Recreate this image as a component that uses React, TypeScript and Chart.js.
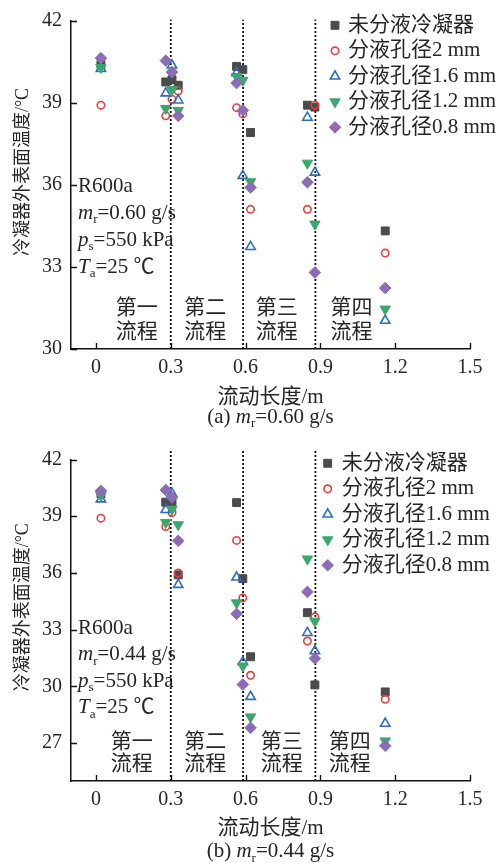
import React, { useEffect, useRef } from 'react';
import { Chart, registerables } from 'chart.js';

Chart.register(...registerables);

// ---------------- data ----------------
const flowLength = [0.02, 0.28, 0.305, 0.33, 0.564, 0.589, 0.62, 0.848, 0.878, 1.16];
const seriesNames = ['未分液冷凝器', '分液孔径2 mm', '分液孔径1.6 mm', '分液孔径1.2 mm', '分液孔径0.8 mm'];

// (a) m_r = 0.60 g/s
const a_noSplit = [40.4, 39.77, 39.85, 39.65, 40.34, 40.22, 37.92, 38.92, 38.85, 34.32];
const a_hole20 = [38.92, 38.53, 39.14, 39.44, 38.83, 38.6, 35.11, 35.11, 38.92, 33.51];
const a_hole16 = [40.25, 39.36, 40.38, 39.1, 40.1, 36.34, 33.74, 38.47, 36.46, 31.04];
const a_hole12 = [40.3, 38.8, 39.49, 38.73, 39.97, 39.83, 36.12, 36.8, 34.57, 31.46];
const a_hole08 = [40.64, 40.55, 40.13, 38.53, 39.73, 38.73, 35.91, 36.1, 32.8, 32.23];

// (b) m_r = 0.44 g/s
const b_noSplit = [40.2, 39.74, 39.75, 35.9, 39.72, 35.7, 31.57, 33.9, 30.08, 29.71];
const b_hole20 = [38.9, 38.46, 39.2, 36.0, 37.72, 34.68, 30.59, 32.4, 33.68, 29.32];
const b_hole16 = [39.9, 39.34, 40.2, 35.38, 35.77, 31.29, 29.46, 32.84, 31.87, 28.04];
const b_hole12 = [40.1, 38.67, 39.37, 38.55, 34.42, 31.08, 28.39, 36.74, 33.45, 27.12];
const b_hole08 = [40.34, 40.39, 39.99, 37.7, 33.84, 30.1, 27.81, 35.0, 31.48, 26.86];

const passBoundaries = [0.3, 0.59, 0.88];
const passNames = ['第一', '第二', '第三', '第四'];
const passSuffix = '流程';
const xTicks = [0, 0.3, 0.6, 0.9, 1.2, 1.5];
const xTickLabels = ['0', '0.3', '0.6', '0.9', '1.2', '1.5'];
const yTicksA = [30, 33, 36, 39, 42];
const yTicksB = [27, 30, 33, 36, 39, 42];
const xTitle = '流动长度/m';
const yTitle = '冷凝器外表面温度/°C';
const refrigerant = 'R600a';
const flowA = '=0.60 g/s';
const flowB = '=0.44 g/s';
const pressure = '=550 kPa';
const ambient = '=25 ℃';

// ---------------- styles ----------------
const SERIF = '"Liberation Serif", "Noto Sans CJK SC", serif';
const TEXT = '#262626';
const markerStyles = [
  { pointStyle: 'rect', radius: 5.6, fill: '#4b4b4b', stroke: '#4b4b4b', width: 1, rotation: 0 },
  { pointStyle: 'circle', radius: 3.7, fill: 'rgba(255,255,255,0)', stroke: '#ee3b3b', width: 1.6, rotation: 0 },
  { pointStyle: 'triangle', radius: 5.4, fill: 'rgba(255,255,255,0)', stroke: '#2a6cc6', width: 1.6, rotation: 0 },
  { pointStyle: 'triangle', radius: 6, fill: '#3aa86c', stroke: '#3aa86c', width: 1, rotation: 180 },
  { pointStyle: 'rectRot', radius: 5.8, fill: '#8d6cb7', stroke: '#8d6cb7', width: 1, rotation: 0 },
];

type Part = { t: string; it?: boolean; sub?: boolean };

function partFont(p: Part, size: number) {
  return `${p.it ? 'italic ' : ''}${p.sub ? Math.round(size * 0.62) : size}px ${SERIF}`;
}
function measureParts(ctx: CanvasRenderingContext2D, parts: Part[], size: number) {
  let w = 0;
  for (const p of parts) {
    ctx.font = partFont(p, size);
    w += ctx.measureText(p.t).width;
  }
  return w;
}
function drawParts(ctx: CanvasRenderingContext2D, parts: Part[], x: number, y: number, size: number) {
  let cx = x;
  ctx.textAlign = 'left';
  ctx.textBaseline = 'middle';
  for (const p of parts) {
    ctx.font = partFont(p, size);
    ctx.fillText(p.t, cx, p.sub ? y + size * 0.32 : y);
    cx += ctx.measureText(p.t).width;
  }
}

function drawMarker(ctx: CanvasRenderingContext2D, st: any, x: number, y: number) {
  const r = st.radius;
  let rad = (st.rotation * Math.PI) / 180;
  ctx.beginPath();
  if (st.pointStyle === 'rect') {
    const s = Math.SQRT1_2 * r;
    ctx.rect(x - s, y - s, 2 * s, 2 * s);
  } else if (st.pointStyle === 'circle') {
    ctx.arc(x, y, r, 0, Math.PI * 2);
  } else if (st.pointStyle === 'triangle') {
    for (let i = 0; i < 3; i++) {
      const px = x + Math.sin(rad) * r;
      const py = y - Math.cos(rad) * r;
      if (i === 0) ctx.moveTo(px, py);
      else ctx.lineTo(px, py);
      rad += (2 * Math.PI) / 3;
    }
  } else {
    ctx.moveTo(x - r, y);
    ctx.lineTo(x, y - r);
    ctx.lineTo(x + r, y);
    ctx.lineTo(x, y + r);
  }
  ctx.closePath();
  ctx.fillStyle = st.fill;
  ctx.fill();
  ctx.lineWidth = st.width;
  ctx.strokeStyle = st.stroke;
  ctx.stroke();
}

const panels = [
  {
    key: 'a',
    top: 0,
    height: 430,
    padTop: 20.5,
    xAxisHeight: 81,
    titlePadBottom: 20,
    yMin: 30,
    yTicks: yTicksA,
    lineTop: 42.05,
    series: [a_noSplit, a_hole20, a_hole16, a_hole12, a_hole08],
    legendMarkerX: 335,
    legendTextX: 348,
    legendY0: 25.3,
    condY0: 186,
    condStep: 27,
    flow: flowA,
    passLabelX: [0.164, 0.438, 0.725, 1.025],
    passRows: [-41, -17],
    captionY: 417,
    captionTag: '(a) ',
  },
  {
    key: 'b',
    top: 430,
    height: 433,
    padTop: 29.5,
    xAxisHeight: 82,
    titlePadBottom: 22,
    yMin: 25,
    yTicks: yTicksB,
    lineTop: 42.5,
    series: [b_noSplit, b_hole20, b_hole16, b_hole12, b_hole08],
    legendMarkerX: 327.7,
    legendTextX: 341.7,
    legendY0: 33.3,
    condY0: 198,
    condStep: 26.5,
    flow: flowB,
    passLabelX: [0.144, 0.438, 0.745, 1.018],
    passRows: [-38.5, -17],
    captionY: 421.5,
    captionTag: '(b) ',
  },
];

function buildConfig(cfg: any): any {
  const markerSets = cfg.series.map((vals: number[], i: number) => {
    const st = markerStyles[i];
    return {
      type: 'scatter',
      label: seriesNames[i],
      data: vals.map((v, j) => ({ x: flowLength[j], y: v })),
      pointStyle: st.pointStyle,
      pointRadius: st.radius,
      pointBorderWidth: st.width,
      pointBackgroundColor: st.fill,
      pointBorderColor: st.stroke,
      pointRotation: st.rotation,
      showLine: false,
      order: 5 - i,
      clip: false,
    };
  });
  const lineSets = passBoundaries.map((b) => ({
    type: 'line',
    label: '',
    data: [
      { x: b, y: cfg.yMin },
      { x: b, y: cfg.lineTop },
    ],
    borderColor: '#111111',
    borderWidth: 1.8,
    borderDash: [2, 2],
    pointRadius: 0,
    showLine: true,
    order: 20,
    clip: false,
  }));

  const overlay = {
    id: 'overlay' + cfg.key,
    afterDraw(chart: any) {
      const ctx: CanvasRenderingContext2D = chart.ctx;
      const xs = chart.scales.x;
      const ys = chart.scales.y;
      const ca = chart.chartArea;
      ctx.save();
      // inward tick marks
      ctx.strokeStyle = '#111111';
      ctx.lineWidth = 1.4;
      ctx.beginPath();
      for (const v of xTicks) {
        const px = Math.round(xs.getPixelForValue(v)) + 0.5;
        ctx.moveTo(px, ca.bottom);
        ctx.lineTo(px, ca.bottom - 6);
      }
      for (const v of cfg.yTicks) {
        const py = Math.round(ys.getPixelForValue(v)) + 0.5;
        ctx.moveTo(ca.left, py);
        ctx.lineTo(ca.left + 6, py);
      }
      ctx.stroke();

      ctx.fillStyle = TEXT;
      // y title
      ctx.save();
      ctx.translate(23, (ca.top + ca.bottom) / 2 - 13);
      ctx.rotate(-Math.PI / 2);
      ctx.font = `18px ${SERIF}`;
      ctx.textAlign = 'center';
      ctx.textBaseline = 'middle';
      ctx.fillText(yTitle, 0, 0);
      ctx.restore();

      // condition block
      const cx = ca.left + 7;
      const lines: Part[][] = [
        [{ t: refrigerant }],
        [{ t: 'm', it: true }, { t: 'r', sub: true }, { t: cfg.flow }],
        [{ t: 'p', it: true }, { t: 's', sub: true }, { t: pressure }],
        [{ t: 'T', it: true }, { t: 'a', sub: true }, { t: ambient }],
      ];
      lines.forEach((parts, i) => drawParts(ctx, parts, cx, cfg.condY0 + i * cfg.condStep, 21));

      // pass labels
      ctx.font = `21px ${SERIF}`;
      ctx.textAlign = 'center';
      ctx.textBaseline = 'middle';
      passNames.forEach((name, i) => {
        const px = xs.getPixelForValue(cfg.passLabelX[i]);
        ctx.fillText(name, px, ca.bottom + cfg.passRows[0]);
        ctx.fillText(passSuffix, px, ca.bottom + cfg.passRows[1]);
      });

      // legend
      seriesNames.forEach((name, i) => {
        const y = cfg.legendY0 + i * 25.5;
        drawMarker(ctx, markerStyles[i], cfg.legendMarkerX, y);
        ctx.fillStyle = TEXT;
        ctx.font = `21px ${SERIF}`;
        ctx.textAlign = 'left';
        ctx.textBaseline = 'middle';
        ctx.fillText(name, cfg.legendTextX, y);
      });

      // caption
      const cap: Part[] = [{ t: cfg.captionTag }, { t: 'm', it: true }, { t: 'r', sub: true }, { t: cfg.flow }];
      const w = measureParts(ctx, cap, 21);
      ctx.fillStyle = TEXT;
      drawParts(ctx, cap, (ca.left + ca.right) / 2 - w / 2, cfg.captionY, 21);
      ctx.restore();
    },
  };

  return {
    type: 'scatter',
    data: { datasets: [...markerSets, ...lineSets] },
    options: {
      animation: false,
      responsive: false,
      devicePixelRatio: 1,
      layout: { padding: { top: cfg.padTop, right: 29, left: 0, bottom: 0 } },
      plugins: { legend: { display: false }, tooltip: { enabled: false } },
      scales: {
        x: {
          type: 'linear',
          min: -0.1,
          max: 1.5,
          afterBuildTicks: (s: any) => {
            s.ticks = xTicks.map((v) => ({ value: v }));
          },
          afterFit: (s: any) => {
            s.height = cfg.xAxisHeight;
          },
          grid: { display: false, drawTicks: false },
          border: { display: true, color: '#111111', width: 1.5 },
          ticks: {
            color: TEXT,
            padding: 7,
            font: { family: SERIF, size: 20 },
            callback: (_v: any, i: number) => xTickLabels[i],
          },
          title: {
            display: true,
            text: xTitle,
            color: TEXT,
            font: { family: SERIF, size: 21 },
            padding: { top: 0, bottom: cfg.titlePadBottom },
          },
        },
        y: {
          type: 'linear',
          min: cfg.yMin,
          max: 42,
          afterBuildTicks: (s: any) => {
            s.ticks = cfg.yTicks.map((v: number) => ({ value: v }));
          },
          afterFit: (s: any) => {
            s.width = 71;
          },
          grid: { display: false, drawTicks: false },
          border: { display: true, color: '#111111', width: 1.5 },
          ticks: {
            color: TEXT,
            padding: 9,
            font: { family: SERIF, size: 20 },
            callback: (v: any) => String(v),
          },
        },
      },
    },
    plugins: [overlay],
  };
}

function ChartPanel({ cfg }: { cfg: any }) {
  const ref = useRef<HTMLCanvasElement>(null);
  useEffect(() => {
    const chart = new Chart(ref.current as HTMLCanvasElement, buildConfig(cfg));
    return () => chart.destroy();
  }, [cfg]);
  return (
    <canvas
      ref={ref}
      width={499}
      height={cfg.height}
      style={{ position: 'absolute', left: 0, top: cfg.top, width: 499, height: cfg.height, display: 'block' }}
    />
  );
}

export default function App() {
  return (
    <div style={{ position: 'absolute', left: 0, top: 0, width: 499, height: 863, background: '#ffffff' }}>
      {panels.map((p) => (
        <ChartPanel key={p.key} cfg={p} />
      ))}
    </div>
  );
}
